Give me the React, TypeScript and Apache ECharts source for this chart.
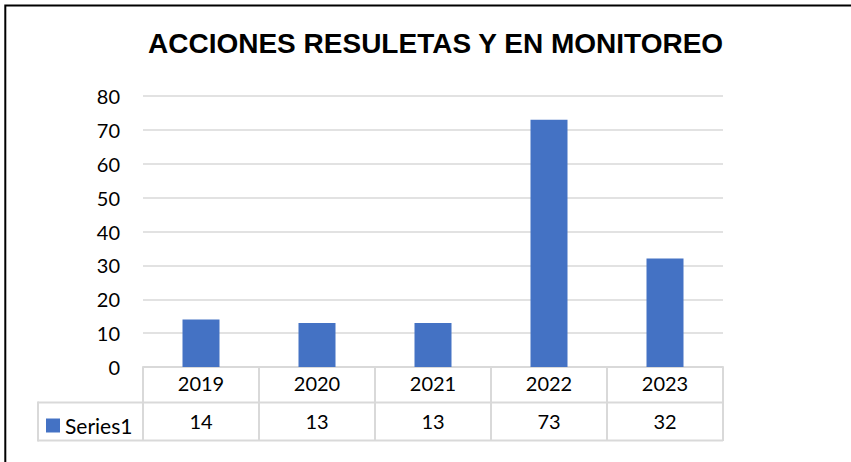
import React, { useEffect, useRef } from "react";
import * as echarts from "echarts";

const title = "ACCIONES RESULETAS Y EN MONITOREO";
const categories = ["2019", "2020", "2021", "2022", "2023"];
const seriesName = "Series1";
const values = [14, 13, 13, 73, 32];
const yMin = 0;
const yMax = 80;
const yStep = 10;

const GRID = "#d9d9d9";
const BAR = "#4472C4";
const FONT = "Lato, 'Noto Sans', sans-serif";

export default function App() {
  const ref = useRef<HTMLDivElement>(null);
  useEffect(() => {
    if (!ref.current) return;
    const chart = echarts.init(ref.current, undefined, { renderer: "svg" });
    chart.setOption({
      animation: false,
      backgroundColor: "#fff",
      title: {
        text: title,
        left: 148,
        top: 29,
        padding: 0,
        textStyle: {
          fontFamily: "'Liberation Sans', Arial, sans-serif",
          fontWeight: "bold",
          fontSize: 28,
          color: "#000",
        },
      },
      legend: {
        data: [seriesName],
        left: 46,
        top: 415,
        padding: 0,
        itemWidth: 14,
        itemHeight: 14,
        icon: "rect",
        textStyle: { fontFamily: FONT, fontSize: 21, color: "#000" },
      },
      grid: { left: 143, right: 128, top: 96, bottom: 95 },
      xAxis: [
        {
          type: "category",
          data: categories,
          axisLine: { show: true, lineStyle: { color: GRID, width: 2 } },
          axisTick: { show: true, length: 74, interval: 0, lineStyle: { color: GRID, width: 2 } },
          axisLabel: { margin: 6, fontFamily: FONT, fontSize: 20, color: "#000", interval: 0 },
        },
        {
          type: "category",
          position: "bottom",
          offset: 35,
          data: values.map((v) => String(v)),
          axisLine: { show: false },
          axisTick: { show: false },
          axisLabel: { margin: 9, fontFamily: FONT, fontSize: 20, color: "#000", interval: 0 },
        },
      ],
      yAxis: {
        type: "value",
        min: yMin,
        max: yMax,
        interval: yStep,
        axisLine: { show: false },
        axisTick: { show: false },
        axisLabel: { margin: 23, fontFamily: FONT, fontSize: 20, color: "#000" },
        splitLine: { lineStyle: { color: GRID, width: 1.5 } },
      },
      series: [
        {
          name: seriesName,
          type: "bar",
          xAxisIndex: 0,
          data: values,
          barWidth: 37,
          itemStyle: { color: BAR },
        },
      ],
      graphic: [
        {
          type: "rect",
          shape: { x: 5.3, y: 5.5, width: 900, height: 600 },
          style: { fill: "none", stroke: "#000", lineWidth: 2 },
          silent: true,
        },
        {
          type: "line",
          shape: { x1: 37.7, y1: 402.5, x2: 723, y2: 402.5 },
          style: { stroke: GRID, lineWidth: 2 },
          silent: true,
        },
        {
          type: "line",
          shape: { x1: 37.7, y1: 440.5, x2: 723, y2: 440.5 },
          style: { stroke: GRID, lineWidth: 2 },
          silent: true,
        },
        {
          type: "line",
          shape: { x1: 38, y1: 401.5, x2: 38, y2: 441.5 },
          style: { stroke: GRID, lineWidth: 2 },
          silent: true,
        },
      ],
    });
    return () => chart.dispose();
  }, []);
  return (
    <div
      ref={ref}
      style={{ position: "fixed", left: 0, top: 0, width: 851, height: 462 }}
    />
  );
}
